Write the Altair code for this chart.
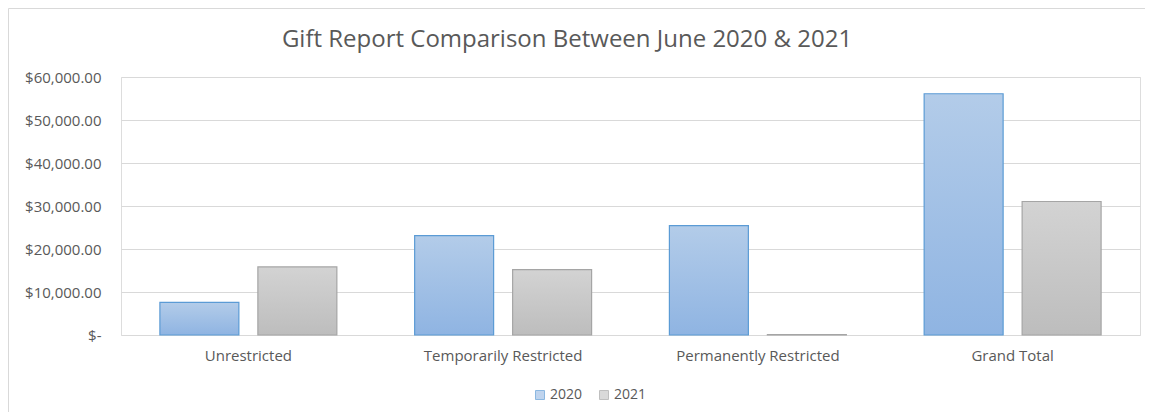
import altair as alt
import pandas as pd

categories = ["Unrestricted", "Temporarily Restricted", "Permanently Restricted", "Grand Total"]
years = ["2020", "2021"]
values_2020 = [7600, 23100, 25450, 56100]
values_2021 = [15830, 15200, 100, 31050]
y_ticks = [0, 10000, 20000, 30000, 40000, 50000, 60000]
title_text = "Gift Report Comparison Between June 2020 & 2021"

rows = []
for c, v in zip(categories, values_2020):
    rows.append({"category": c, "year": "2020", "value": v})
for c, v in zip(categories, values_2021):
    rows.append({"category": c, "year": "2021", "value": v})
df = pd.DataFrame(rows)

FONT = "Open Sans"
TXT = "#595959"
GRID = "#d9d9d9"

x_enc = alt.X("category:N", sort=categories,
              scale=alt.Scale(paddingInner=0, paddingOuter=0),
              axis=alt.Axis(title=None, labelAngle=0, ticks=False, domain=False,
                            labelPadding=13, labelFontSize=15, labelColor=TXT,
                            labelFont=FONT, grid=False))
xo_enc = alt.XOffset("year:N", sort=years,
                     scale=alt.Scale(paddingInner=0.194, paddingOuter=0.397))
y_enc = alt.Y("value:Q",
              scale=alt.Scale(domain=[0, 60000], nice=False),
              axis=alt.Axis(title=None, values=y_ticks, ticks=False, domain=False,
                            gridColor=GRID, gridWidth=1, labelPadding=20,
                            labelFontSize=15, labelColor=TXT, labelFont=FONT,
                            labelExpr="datum.value == 0 ? '$-\u00a0\u00a0' : '$' + format(datum.value, ',.2f')"))

blue_grad = alt.Gradient(gradient="linear",
                         stops=[alt.GradientStop(color="#b3cce9", offset=0),
                                alt.GradientStop(color="#8fb4e2", offset=1)],
                         x1=0, x2=0, y1=0, y2=1)
grey_grad = alt.Gradient(gradient="linear",
                         stops=[alt.GradientStop(color="#d3d3d3", offset=0),
                                alt.GradientStop(color="#bdbdbd", offset=1)],
                         x1=0, x2=0, y1=0, y2=1)

base = alt.Chart(df)

bars2020 = base.transform_filter(alt.datum.year == "2020").mark_bar(
    fill=blue_grad, stroke="#5b9bd5", strokeWidth=1.2
).encode(x=x_enc, xOffset=xo_enc, y=y_enc)

bars2021 = base.transform_filter(alt.datum.year == "2021").mark_bar(
    fill=grey_grad, stroke="#a5a5a5", strokeWidth=1.2
).encode(x=x_enc, xOffset=xo_enc, y=y_enc)

leg = dict(title=None, orient="none", direction="horizontal",
           legendX=412, legendY=311, symbolType="square",
           symbolSize=81, symbolStrokeWidth=1,
           labelFontSize=14, labelColor=TXT, labelFont=FONT,
           columnPadding=14, labelOffset=3)

legend_layer = base.mark_square(size=0, filled=True).encode(
    x=x_enc, xOffset=xo_enc, y=y_enc,
    fill=alt.Fill("year:N", sort=years,
                  scale=alt.Scale(domain=years, range=["#a4c2e7", "#c9c9c9"]),
                  legend=alt.Legend(**leg)),
    stroke=alt.Stroke("year:N", sort=years,
                      scale=alt.Scale(domain=years, range=["#5b9bd5", "#a5a5a5"]),
                      legend=alt.Legend(**leg)),
)

one = alt.Data(values=[{"t": title_text}])

frame_top = alt.Chart(one).mark_rule(stroke=GRID, strokeWidth=1).encode(
    x=alt.value(-112.5), x2=alt.value(1024), y=alt.value(-68.5))
frame_left = alt.Chart(one).mark_rule(stroke=GRID, strokeWidth=1).encode(
    x=alt.value(-112.5), y=alt.value(-68.5), y2=alt.value(335))

title = alt.Chart(one).mark_text(
    font=FONT, fontSize=24, color=TXT, align="center", baseline="middle"
).encode(text="t:N", x=alt.value(446), y=alt.value(-37))

chart = alt.layer(frame_top, frame_left, title, bars2020, bars2021, legend_layer).properties(
    width=1019, height=258,
    autosize=alt.AutoSizeParams(type="none"),
    padding={"left": 113, "top": 69, "right": 5, "bottom": 77},
).configure_view(stroke=None).configure(background="white")

chart.save("out.html", embed_options={"renderer": "svg", "actions": False})
